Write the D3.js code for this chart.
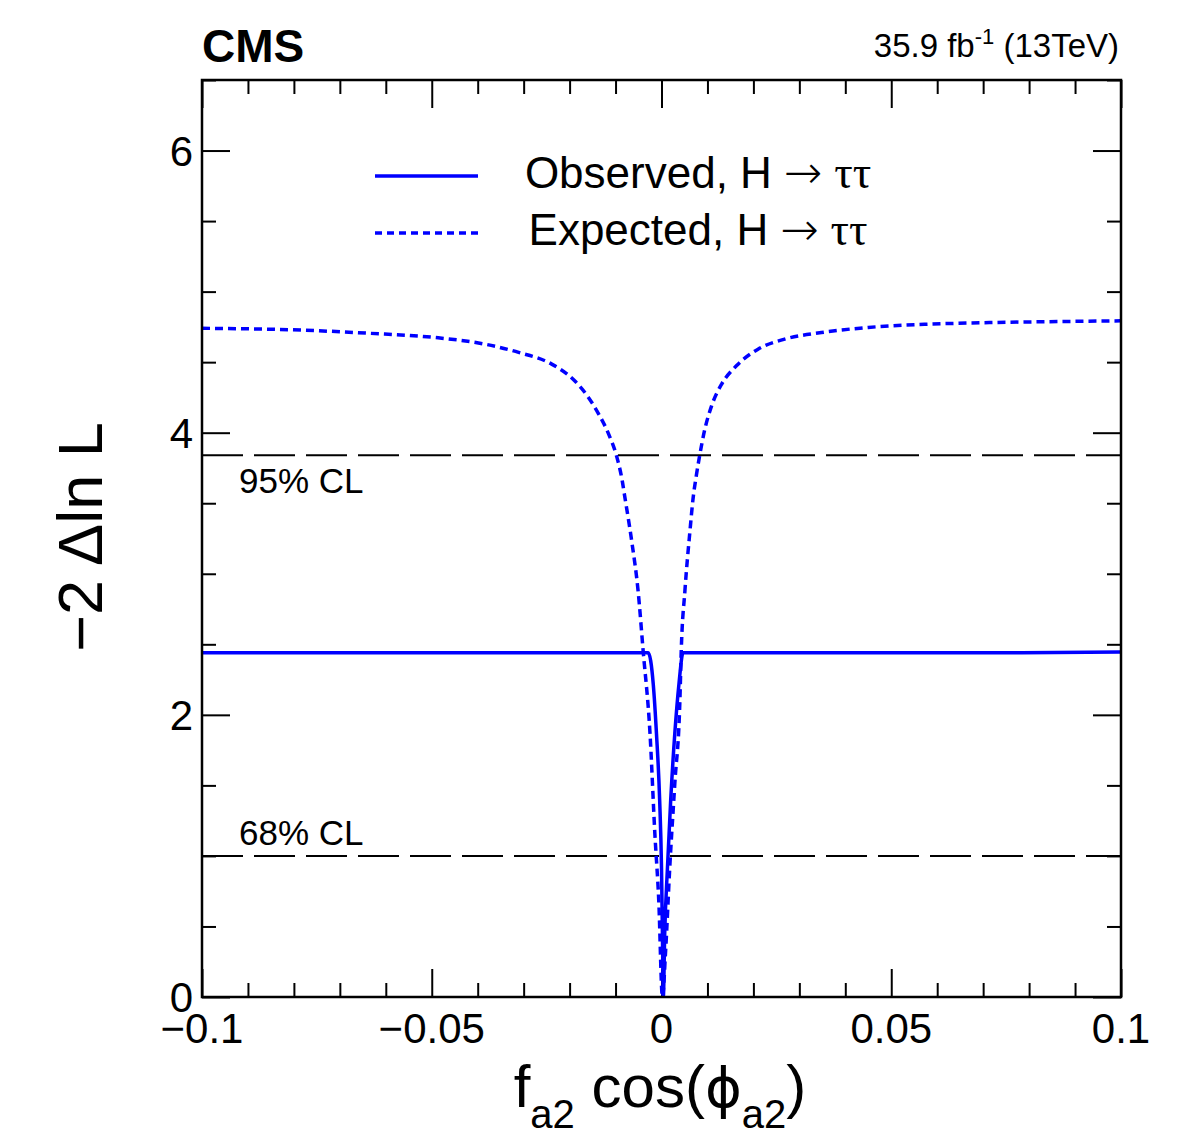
<!DOCTYPE html>
<html>
<head>
<meta charset="utf-8">
<script src="https://cdn.jsdelivr.net/npm/d3@7"></script>
<style>
  body { margin: 0; background: #fff; }
  svg text { font-family: "Liberation Sans", Arial, sans-serif; fill: #000; }
</style>
</head>
<body>
<div id="chart"></div>
<script>
// Scan of -2 delta ln L vs f_a2 cos(phi_a2)
const xTickValues = [-0.1, -0.05, 0, 0.05, 0.1];
const xTickLabels = ["\u22120.1", "\u22120.05", "0", "0.05", "0.1"];
const yTickValues = [0, 2, 4, 6];
const yTickLabels = ["0", "2", "4", "6"];

// Expected curve (dotted)
const expX = [-0.1, -0.0783, -0.0638, -0.0494, -0.0385, -0.0311, -0.0239, -0.0189, -0.0159, -0.0137,
  -0.0115, -0.0098, -0.00855, -0.0081, -0.0065, -0.0051, -0.0040, -0.0025, -0.00145, -0.0006, 0.0002,
  0.0009, 0.0018, 0.0029, 0.0040, 0.0043, 0.0051, 0.0062, 0.0069, 0.0076, 0.0083, 0.0094, 0.0109,
  0.0131, 0.0163, 0.0210, 0.0268, 0.0348, 0.0450, 0.0580, 0.0725, 0.0870, 0.1];
const expY = [4.74, 4.727, 4.705, 4.675, 4.628, 4.569, 4.486, 4.368, 4.25, 4.134,
  3.99, 3.837, 3.66, 3.568, 3.235, 2.881, 2.457, 1.867, 1.16, 0.687, 0.0,
  0.33, 0.92, 1.515, 2.10, 2.457, 2.881, 3.306, 3.542, 3.70, 3.837, 4.02, 4.19,
  4.345, 4.474, 4.592, 4.663, 4.710, 4.746, 4.769, 4.781, 4.788, 4.793];

// Observed curve (solid)
const obsX = [-0.1, -0.075, -0.05, -0.025, -0.01, -0.0029, -0.0018, -0.0011, -0.0004, 0.0,
  0.0002, 0.0004, 0.0007, 0.0013, 0.002, 0.0029, 0.0038, 0.0047, 0.01, 0.025, 0.05, 0.075, 0.1];
const obsY = [2.44, 2.44, 2.44, 2.44, 2.44, 2.44, 2.22, 1.87, 1.395, 0.92,
  0.45, 0.0, 0.45, 0.92, 1.395, 1.87, 2.22, 2.44, 2.44, 2.44, 2.44, 2.44, 2.445];

const clLevels = [1.0, 3.84];
const clLabels = ["68% CL", "95% CL"];

const W = 1182, H = 1146;
const margin = {top: 80, right: 61, bottom: 149, left: 202};
const width = W - margin.left - margin.right;
const height = H - margin.top - margin.bottom;

const svg = d3.select("#chart").append("svg")
  .attr("width", W).attr("height", H);

const g = svg.append("g")
  .attr("transform", `translate(${margin.left},${margin.top})`);

const x = d3.scaleLinear().domain([-0.1, 0.1]).range([0, width]);
const y = d3.scaleLinear().domain([0, 6.5]).range([height, 0]);

const xMinor = d3.range(-0.1, 0.1001, 0.01).filter(v => !xTickValues.some(t => Math.abs(t - v) < 1e-6));
const yMinor = d3.range(0, 6.51, 0.5).filter(v => !yTickValues.some(t => Math.abs(t - v) < 1e-6));

// ticks on all four sides, pointing inward
function tickAxis(axisFn, scale, values, size, translate) {
  const a = g.append("g")
    .attr("transform", translate)
    .call(axisFn(scale).tickValues(values).tickSize(size).tickFormat(""));
  a.select(".domain").remove();
  a.selectAll("line").attr("stroke", "#000").attr("stroke-width", 2);
  return a;
}
tickAxis(d3.axisBottom, x, xTickValues, -28, `translate(0,${height})`);
tickAxis(d3.axisBottom, x, xMinor, -14, `translate(0,${height})`);
tickAxis(d3.axisTop, x, xTickValues, -28, "translate(0,0)");
tickAxis(d3.axisTop, x, xMinor, -14, "translate(0,0)");
tickAxis(d3.axisLeft, y, yTickValues, -28, "translate(0,0)");
tickAxis(d3.axisLeft, y, yMinor, -14, "translate(0,0)");
tickAxis(d3.axisRight, y, yTickValues, -28, `translate(${width},0)`);
tickAxis(d3.axisRight, y, yMinor, -14, `translate(${width},0)`);

// tick labels
g.selectAll(".xlab").data(xTickValues).enter().append("text")
  .attr("x", d => x(d)).attr("y", height + 46)
  .attr("text-anchor", "middle").style("font-size", "42px")
  .text((d, i) => xTickLabels[i]);
g.selectAll(".ylab").data(yTickValues).enter().append("text")
  .attr("x", -9).attr("y", d => y(d) + 15)
  .attr("text-anchor", "end").style("font-size", "42px")
  .text((d, i) => yTickLabels[i]);

// clip region
svg.append("clipPath").attr("id", "clip")
  .append("rect").attr("width", width).attr("height", height);

// CL lines
g.selectAll(".cl").data(clLevels).enter().append("line")
  .attr("x1", 0).attr("x2", width)
  .attr("y1", d => y(d)).attr("y2", d => y(d))
  .attr("stroke", "#000").attr("stroke-width", 2)
  .attr("stroke-dasharray", "41,11");
g.append("text").attr("x", 37).attr("y", y(clLevels[0]) - 11)
  .style("font-size", "35px").text(clLabels[0]);
g.append("text").attr("x", 37).attr("y", y(clLevels[1]) + 38)
  .style("font-size", "35px").text(clLabels[1]);

const line = d3.line().x(d => x(d[0])).y(d => y(d[1])).curve(d3.curveMonotoneX);

g.append("path")
  .datum(expX.map((v, i) => [v, expY[i]]))
  .attr("clip-path", "url(#clip)")
  .attr("d", line)
  .attr("fill", "none").attr("stroke", "#0000ff")
  .attr("stroke-width", 3.5).attr("stroke-dasharray", "8,5");

g.append("path")
  .datum(obsX.map((v, i) => [v, obsY[i]]))
  .attr("clip-path", "url(#clip)")
  .attr("d", line)
  .attr("fill", "none").attr("stroke", "#0000ff")
  .attr("stroke-width", 3.5);

// frame
g.append("rect").attr("width", width).attr("height", height)
  .attr("fill", "none").attr("stroke", "#000").attr("stroke-width", 2.5);

// legend
const legend = svg.append("g");
legend.append("line").attr("x1", 375).attr("x2", 478).attr("y1", 176).attr("y2", 176)
  .attr("stroke", "#0000ff").attr("stroke-width", 3.5);
legend.append("line").attr("x1", 375).attr("x2", 478).attr("y1", 233).attr("y2", 233)
  .attr("stroke", "#0000ff").attr("stroke-width", 3.5).attr("stroke-dasharray", "7,5");

function legendText(label, yPos) {
  const t = legend.append("text").attr("x", 698).attr("y", yPos)
    .attr("text-anchor", "middle").style("font-size", "44px");
  t.append("tspan").text(label + ", H ");
  t.append("tspan").style("font-family", "'DejaVu Sans', sans-serif").style("font-size", "46px")
    .style("font-weight", "200").text("\u2192");
  t.append("tspan").style("font-family", "'Liberation Serif', serif").style("font-size", "46px").text(" \u03c4\u03c4");
}
legendText("Observed", 188);
legendText("Expected", 245);

// CMS label and lumi
svg.append("text").attr("x", 202).attr("y", 62)
  .style("font-size", "46px").style("font-weight", "bold").text("CMS");
const lumi = svg.append("text").attr("x", 1119).attr("y", 57)
  .attr("text-anchor", "end").style("font-size", "33px");
lumi.append("tspan").text("35.9 fb");
lumi.append("tspan").attr("dy", -13).style("font-size", "22px").text("-1");
lumi.append("tspan").attr("dy", 13).text(" (13TeV)");

// axis titles
const xt = svg.append("text").attr("x", 660).attr("y", 1107)
  .attr("text-anchor", "middle").style("font-size", "60px");
xt.append("tspan").text("f");
xt.append("tspan").attr("dy", 21).style("font-size", "40px").text("a2");
xt.append("tspan").attr("dy", -21).text(" cos(");
xt.append("tspan").style("font-family", "'DejaVu Sans', sans-serif").style("font-size", "56px").text("\u03d5");
xt.append("tspan").attr("dy", 21).style("font-size", "40px").text("a2");
xt.append("tspan").attr("dy", -21).text(")");

svg.append("text")
  .attr("transform", "translate(102,537) rotate(-90)")
  .attr("text-anchor", "middle").style("font-size", "63px")
  .text("\u22122 \u0394ln L");
</script>
</body>
</html>
